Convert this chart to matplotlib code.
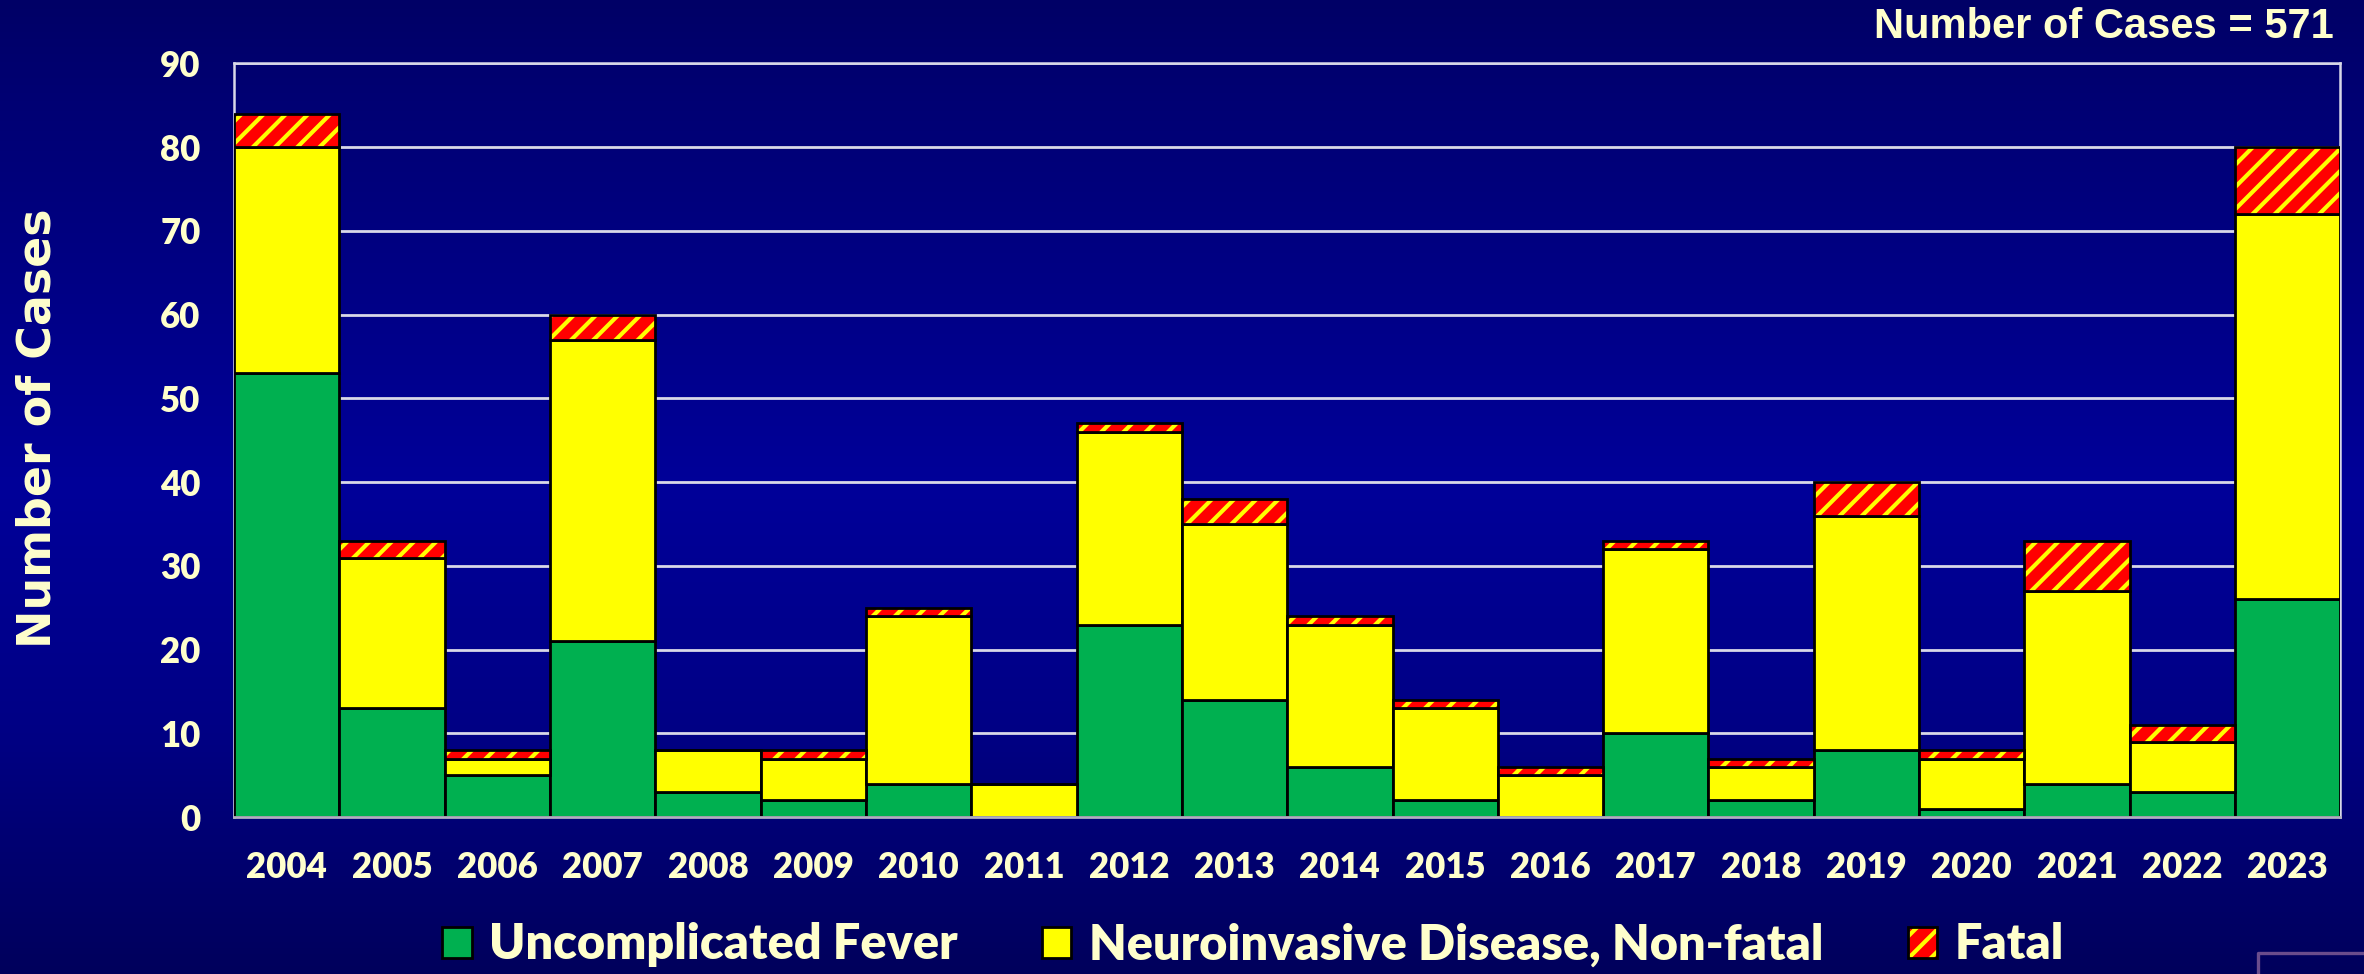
"""
West Nile virus cases by year and clinical category, stacked bar chart
(slide style: dark blue gradient background, cream text).
"""

import numpy as np
import matplotlib
matplotlib.use("Agg")
import matplotlib.pyplot as plt
from matplotlib.patches import Patch
from matplotlib.legend_handler import HandlerTuple

# ── Data ───────────────────────────────────────────────────────────────────────
YEARS = [str(y) for y in range(2004, 2024)]
FEVER = [53, 13, 5, 21, 3, 2, 4, 0, 23, 14, 6, 2, 0, 10, 2, 8, 1, 4, 3, 26]
NEURO = [27, 18, 2, 36, 5, 5, 20, 4, 23, 21, 17, 11, 5, 22, 4, 28, 6, 23, 6, 46]
FATAL = [4, 2, 1, 3, 0, 1, 1, 0, 1, 3, 1, 1, 1, 1, 1, 4, 1, 6, 2, 8]
LEGEND_LABELS = ["Uncomplicated Fever", "Neuroinvasive Disease, Non-fatal", "Fatal"]
Y_TICKS = list(range(0, 91, 10))
TOTAL_TEXT = f"Number of Cases = {sum(FEVER) + sum(NEURO) + sum(FATAL)}"

# ── Style ──────────────────────────────────────────────────────────────────────
GREEN  = "#00B050"
YELLOW = "#FFFF00"
RED    = "#FF0000"
CREAM  = "#FFFFCC"
GRID   = "#D8D8E8"

TICK_FONT  = ["Lato", "DejaVu Sans"]
TITLE_FONT = ["Liberation Sans Narrow", "Liberation Sans", "DejaVu Sans"]

plt.rcParams["hatch.linewidth"] = 1.5


def draw_background(fig):
    bg = fig.add_axes([0, 0, 1, 1], zorder=-10)
    t = np.linspace(0, 1, 400)
    # dark at top and bottom, brighter blue around the plot middle
    blue = np.interp(t, [0.0, 0.1, 0.5, 0.75, 1.0], [0.40, 0.45, 0.60, 0.52, 0.36])
    img = np.zeros((len(t), 2, 3))
    img[:, :, 2] = blue[:, None]
    bg.imshow(img, aspect="auto", extent=[0, 1, 0, 1], origin="upper")
    bg.set_axis_off()
    # little slide frame in the bottom-right corner
    bg.plot([0.955, 0.955, 1.0], [0.0, 0.022, 0.022], color="#6A4C8C", lw=1.2)
    bg.set_xlim(0, 1)
    bg.set_ylim(0, 1)


def main():
    fig = plt.figure(figsize=(11.82, 4.87), dpi=200)
    draw_background(fig)

    ax = fig.add_axes([0.099, 0.161, 0.891, 0.774])
    ax.set_facecolor("none")

    x = np.arange(len(YEARS))
    neuro_bottom = np.array(FEVER)
    fatal_bottom = neuro_bottom + np.array(NEURO)

    ax.bar(x, FEVER, width=1.0, color=GREEN, edgecolor="black", linewidth=1.0, zorder=3)
    ax.bar(x, NEURO, width=1.0, bottom=neuro_bottom, color=YELLOW,
           edgecolor="black", linewidth=1.0, zorder=3)
    # fatal: red with yellow stripes, then a black outline on top
    ax.bar(x, FATAL, width=1.0, bottom=fatal_bottom, color=RED,
           edgecolor=YELLOW, hatch="///", linewidth=0, zorder=3)
    ax.bar(x, FATAL, width=1.0, bottom=fatal_bottom, color="none",
           edgecolor="black", linewidth=1.0, zorder=4)

    ax.set_xlim(-0.5, len(YEARS) - 0.5)
    ax.set_ylim(0, 90)
    ax.set_yticks(Y_TICKS)
    ax.set_xticks(x)
    ax.set_xticklabels(YEARS)
    ax.yaxis.grid(True, color=GRID, linewidth=1.0, zorder=0)
    ax.set_axisbelow(True)

    for side in ["top", "left", "right"]:
        ax.spines[side].set_color(GRID)
        ax.spines[side].set_linewidth(0.9)
        ax.spines[side].set_zorder(0)
    ax.spines["bottom"].set_color("#B0B0C0")
    ax.spines["bottom"].set_linewidth(1.0)
    ax.spines["bottom"].set_zorder(5)

    ax.tick_params(axis="both", length=0, colors=CREAM)
    ax.tick_params(axis="x", pad=12)
    ax.tick_params(axis="y", pad=12)
    for lbl in ax.get_xticklabels() + ax.get_yticklabels():
        lbl.set_fontfamily(TICK_FONT)
        lbl.set_fontweight("heavy")
        lbl.set_fontsize(12.5)

    fig.text(0.016, 0.56, "Number of Cases", rotation=90, ha="center", va="center",
             color=CREAM, fontsize=16.5, fontweight="bold", family="DejaVu Sans")
    fig.text(0.987, 0.972, TOTAL_TEXT, ha="right", va="center", color=CREAM,
             fontsize=15, fontweight="bold", family=TITLE_FONT)

    # ── Legend ────────────────────────────────────────────────────────────────
    h_fever = Patch(facecolor=GREEN, edgecolor="black", linewidth=1.0)
    h_neuro = Patch(facecolor=YELLOW, edgecolor="black", linewidth=1.0)
    h_fatal = (Patch(facecolor=RED, edgecolor=YELLOW, hatch="///", linewidth=0),
               Patch(facecolor="none", edgecolor="black", linewidth=1.0))
    leg = fig.legend([h_fever, h_neuro, h_fatal], LEGEND_LABELS,
                     handler_map={tuple: HandlerTuple(ndivide=1)},
                     loc="center", bbox_to_anchor=(0.530, 0.030), ncol=3,
                     frameon=False, handlelength=0.6, handleheight=0.6,
                     handletextpad=0.35, columnspacing=1.75,
                     prop={"family": TICK_FONT, "weight": "heavy", "size": 17.5})
    for txt in leg.get_texts():
        txt.set_color(CREAM)

    fig.savefig("out.png", dpi=200)
    plt.close(fig)


if __name__ == "__main__":
    main()
